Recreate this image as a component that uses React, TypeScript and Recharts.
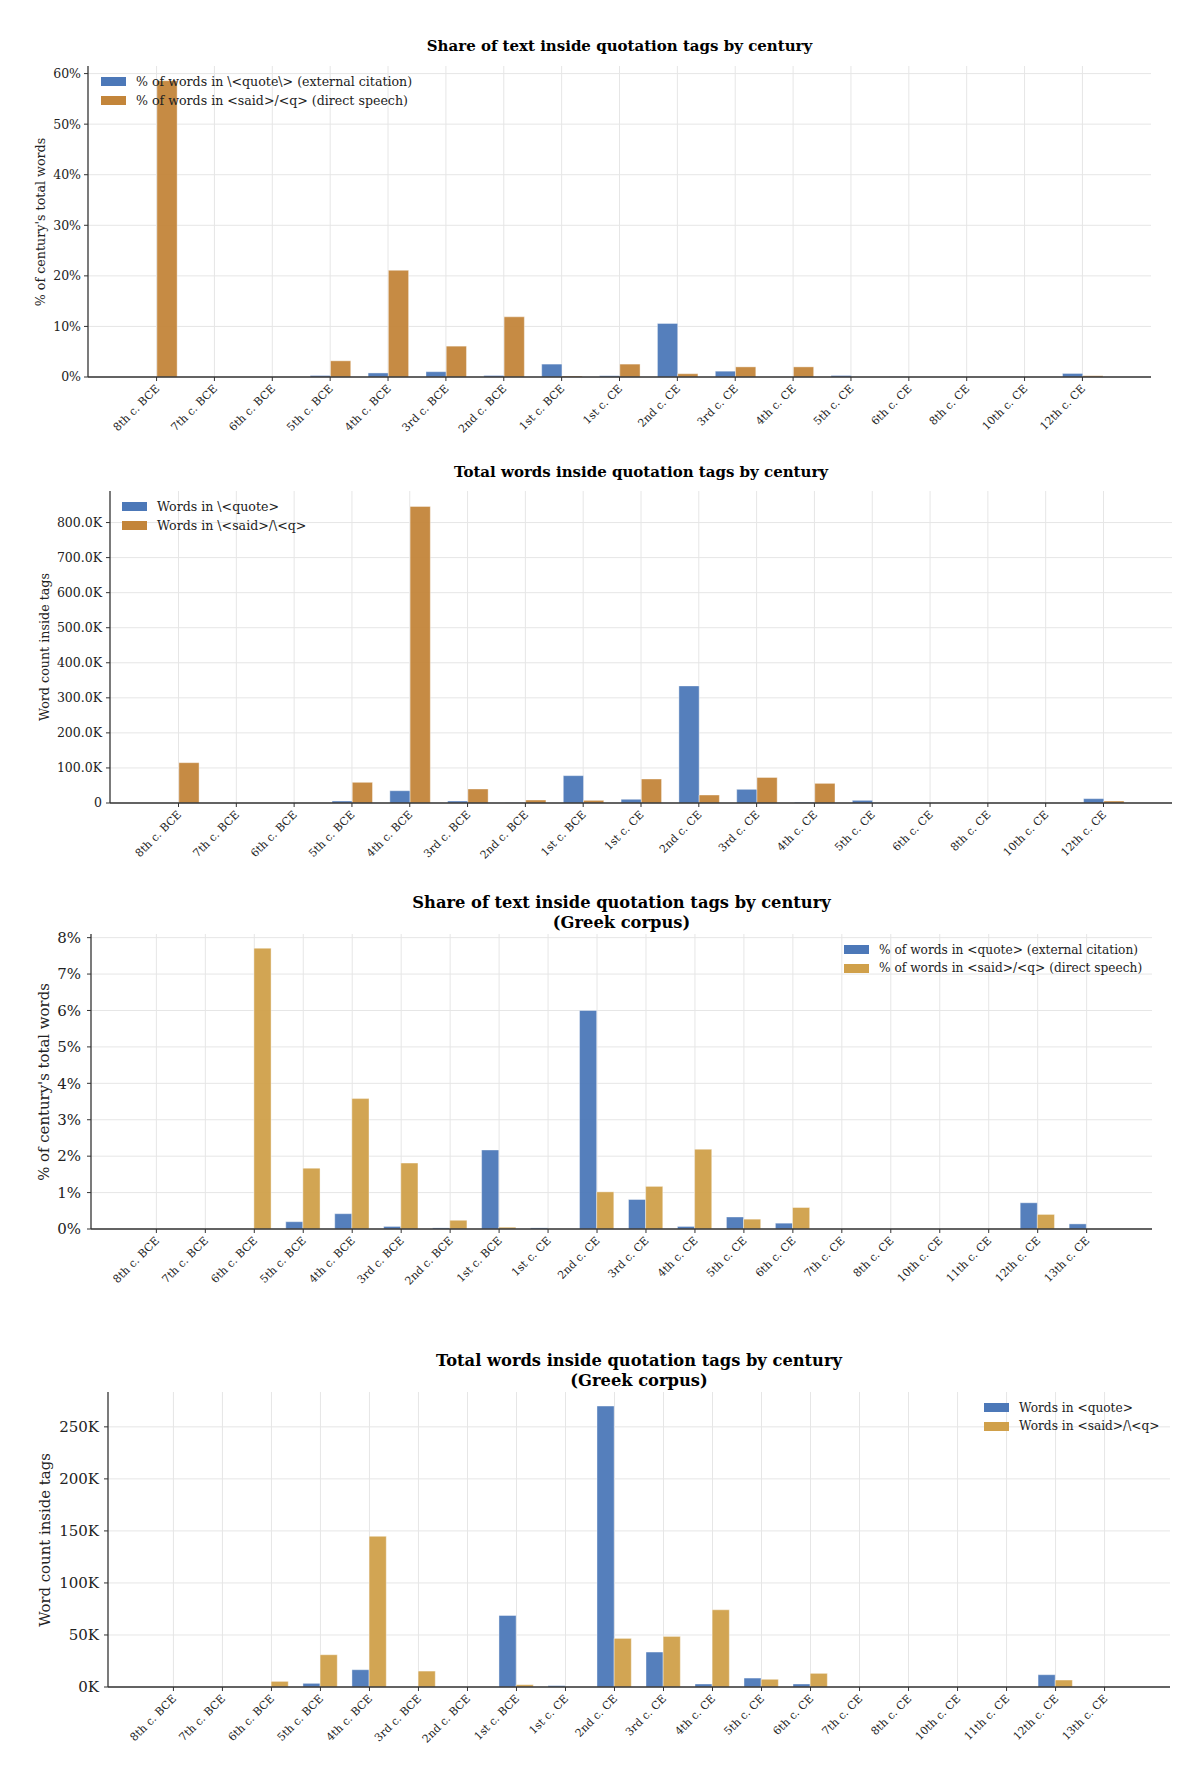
import React from "react";
import { BarChart, Bar, XAxis, YAxis, CartesianGrid } from "recharts";

const FONT = '"DejaVu Serif", serif';

// full corpus
const centuries = [
  "8th c. BCE", "7th c. BCE", "6th c. BCE", "5th c. BCE", "4th c. BCE", "3rd c. BCE",
  "2nd c. BCE", "1st c. BCE", "1st c. CE", "2nd c. CE", "3rd c. CE", "4th c. CE",
  "5th c. CE", "6th c. CE", "8th c. CE", "10th c. CE", "12th c. CE",
];
const quotePct = [0, 0, 0, 0.3, 0.8, 1.05, 0.3, 2.55, 0.25, 10.6, 1.15, 0.02, 0.3, 0.03, 0, 0, 0.7];
const saidPct = [58.6, 0, 0, 3.2, 21.1, 6.1, 11.9, 0.2, 2.55, 0.65, 2.0, 2.0, 0, 0, 0, 0, 0.25];
const quoteWords = [0, 0, 0, 5700, 35000, 5700, 800, 78000, 10500, 334000, 39000, 2000, 7600, 0, 0, 0, 12400];
const saidWords = [115000, 0, 0, 59000, 846000, 40000, 8600, 7600, 68500, 22800, 73000, 56000, 0, 0, 0, 0, 5700];

// Greek corpus
const greekCenturies = [
  "8th c. BCE", "7th c. BCE", "6th c. BCE", "5th c. BCE", "4th c. BCE", "3rd c. BCE",
  "2nd c. BCE", "1st c. BCE", "1st c. CE", "2nd c. CE", "3rd c. CE", "4th c. CE",
  "5th c. CE", "6th c. CE", "7th c. CE", "8th c. CE", "10th c. CE", "11th c. CE",
  "12th c. CE", "13th c. CE",
];
const greekQuotePct = [0, 0, 0, 0.2, 0.42, 0.07, 0.03, 2.17, 0.03, 6.0, 0.81, 0.07, 0.33, 0.16, 0, 0, 0, 0, 0.72, 0.14];
const greekSaidPct = [0, 0, 7.71, 1.67, 3.58, 1.81, 0.24, 0.05, 0, 1.02, 1.17, 2.19, 0.27, 0.59, 0, 0, 0, 0, 0.4, 0];
const greekQuoteWords = [0, 0, 0, 3500, 16600, 0, 0, 68700, 1300, 270000, 33600, 2900, 8600, 2900, 0, 0, 0, 0, 11800, 0];
const greekSaidWords = [0, 0, 5400, 31000, 144800, 15300, 0, 2200, 0, 46700, 48600, 74200, 7400, 13100, 0, 0, 0, 0, 6700, 0];

const pctTicks1 = [0, 10, 20, 30, 40, 50, 60];
const wordTicks1 = [0, 100000, 200000, 300000, 400000, 500000, 600000, 700000, 800000];
const pctTicks2 = [0, 1, 2, 3, 4, 5, 6, 7, 8];
const wordTicks2 = [0, 50000, 100000, 150000, 200000, 250000];

const BLUE = "#4c78b8";
const ORANGE = "#c3853a";
const GOLD = "#d0a04a";

const XTick = (props: any) => {
  const { x, y, payload, fontSize } = props;
  return (
    <g transform={`translate(${x},${y})`}>
      <text
        x={-2}
        y={7}
        transform="rotate(-45)"
        textAnchor="end"
        fontSize={fontSize}
        fontFamily={FONT}
        fill="#222"
      >
        {payload.value}
      </text>
    </g>
  );
};

interface ChartProps {
  top: number;
  height: number;
  plot: { left: number; right: number; top: number; bottom: number };
  cats: string[];
  a: number[];
  b: number[];
  colorB: string;
  yMax: number;
  yTicks: number[];
  yFmt: (v: number) => string;
  yFont: number;
  yGap: number;
  title: string[];
  titleFont: number;
  titleY: number;
  yLabel: string;
  yLabelX: number;
  yLabelFont: number;
  legend: string[];
  legendX: number;
  legendY: number;
  legendFont: number;
  xFont: number;
}

const CenturyChart = (p: ChartProps) => {
  const yW = 80;
  const xH = 80;
  const data = p.cats.map((c, i) => ({ cat: c, a: p.a[i], b: p.b[i] }));
  const n = p.cats.length;
  // matplotlib-style 5% x margin around bars of width 0.35
  const m = 0.35 + 0.05 * (n - 0.3);
  const plotW = p.plot.right - p.plot.left;
  const unit = plotW / (n - 1 + 2 * m);
  const pad = (m - 0.5) * unit;
  const margin = {
    top: p.plot.top - p.top,
    left: p.plot.left - yW,
    right: 1200 - p.plot.right,
    bottom: p.height - (p.plot.bottom - p.top) - xH,
  };
  const cx = (p.plot.left + p.plot.right) / 2;
  const yMid = (p.plot.top + p.plot.bottom) / 2;
  const rowH = p.legendFont * 1.5;

  return (
    <div style={{ position: "absolute", left: 0, top: p.top, width: 1200, height: p.height }}>
      <BarChart
        width={1200}
        height={p.height}
        data={data}
        margin={margin}
        barGap={0}
        barSize={unit * 0.35}
      >
        <CartesianGrid
          stroke="#e6e6e6"
          strokeWidth={1}
          syncWithTicks
          horizontalValues={p.yTicks}
          verticalValues={p.cats}
        />
        <XAxis
          dataKey="cat"
          interval={0}
          height={xH}
          padding={{ left: pad, right: pad }}
          tickSize={4}
          tick={<XTick fontSize={p.xFont} />}
          axisLine={{ stroke: "#333", strokeWidth: 1.3 }}
          tickLine={{ stroke: "#333" }}
        />
        <YAxis
          width={yW}
          type="number"
          domain={[0, p.yMax]}
          ticks={p.yTicks}
          allowDataOverflow
          tickFormatter={p.yFmt}
          tickSize={4}
          tickMargin={p.yGap - 4}
          tick={{ fontSize: p.yFont, fontFamily: FONT, fill: "#222" }}
          axisLine={{ stroke: "#333", strokeWidth: 1.3 }}
          tickLine={{ stroke: "#333" }}
        />
        <Bar dataKey="a" fill={BLUE} fillOpacity={0.95} stroke="#fff" strokeOpacity={0.5} strokeWidth={0.8} isAnimationActive={false} />
        <Bar dataKey="b" fill={p.colorB} fillOpacity={0.95} stroke="#fff" strokeOpacity={0.5} strokeWidth={0.8} isAnimationActive={false} />
      </BarChart>

      {p.title.map((t, i) => (
        <div
          key={t}
          style={{
            position: "absolute",
            left: cx - 400,
            width: 800,
            top: p.titleY - p.top + i * p.titleFont * 1.2 - p.titleFont * 0.6,
            lineHeight: `${p.titleFont * 1.2}px`,
            textAlign: "center",
            fontFamily: FONT,
            fontWeight: "bold",
            fontSize: p.titleFont,
            color: "#000",
          }}
        >
          {t}
        </div>
      ))}

      <div
        style={{
          position: "absolute",
          left: p.yLabelX - 200,
          top: yMid - p.top - 10,
          width: 400,
          height: 20,
          lineHeight: "20px",
          textAlign: "center",
          transform: "rotate(-90deg)",
          fontFamily: FONT,
          fontSize: p.yLabelFont,
          color: "#222",
        }}
      >
        {p.yLabel}
      </div>

      {p.legend.map((l, i) => (
        <div
          key={l}
          style={{
            position: "absolute",
            left: p.legendX,
            top: p.legendY - p.top + i * rowH - rowH / 2,
            height: rowH,
            display: "flex",
            alignItems: "center",
            fontFamily: FONT,
            fontSize: p.legendFont,
            color: "#222",
            whiteSpace: "nowrap",
          }}
        >
          <span
            style={{
              display: "inline-block",
              width: 25,
              height: 9,
              marginRight: 10,
              background: i === 0 ? BLUE : p.colorB,
            }}
          />
          {l}
        </div>
      ))}
    </div>
  );
};

const fmtPct = (v: number) => `${v}%`;
const fmtK1 = (v: number) => (v === 0 ? "0" : `${(v / 1000).toFixed(1)}K`);
const fmtK2 = (v: number) => `${Math.round(v / 1000)}K`;

export default function App() {
  return (
    <div style={{ position: "absolute", left: 0, top: 0, width: 1200, height: 1778, background: "#fff" }}>
      <CenturyChart
        top={0}
        height={450}
        plot={{ left: 88, right: 1151, top: 66, bottom: 377 }}
        cats={centuries}
        a={quotePct}
        b={saidPct}
        colorB={ORANGE}
        yMax={61.5}
        yTicks={pctTicks1}
        yFmt={fmtPct}
        yFont={12.5}
        yGap={7}
        title={["Share of text inside quotation tags by century"]}
        titleFont={15}
        titleY={46}
        yLabel="% of century's total words"
        yLabelX={41}
        yLabelFont={12.7}
        legend={["% of words in \\<quote\\> (external citation)", "% of words in <said>/<q> (direct speech)"]}
        legendX={101}
        legendY={82}
        legendFont={12.6}
        xFont={11}
      />
      <CenturyChart
        top={450}
        height={430}
        plot={{ left: 110, right: 1172, top: 491, bottom: 803 }}
        cats={centuries}
        a={quoteWords}
        b={saidWords}
        colorB={ORANGE}
        yMax={890000}
        yTicks={wordTicks1}
        yFmt={fmtK1}
        yFont={12.5}
        yGap={8}
        title={["Total words inside quotation tags by century"]}
        titleFont={15}
        titleY={472}
        yLabel="Word count inside tags"
        yLabelX={45}
        yLabelFont={12.7}
        legend={["Words in \\<quote>", "Words in \\<said>/\\<q>"]}
        legendX={122}
        legendY={507}
        legendFont={12.6}
        xFont={11}
      />
      <CenturyChart
        top={880}
        height={460}
        plot={{ left: 91, right: 1152, top: 934, bottom: 1229 }}
        cats={greekCenturies}
        a={greekQuotePct}
        b={greekSaidPct}
        colorB={GOLD}
        yMax={8.1}
        yTicks={pctTicks2}
        yFmt={fmtPct}
        yFont={15}
        yGap={10}
        title={["Share of text inside quotation tags by century", "(Greek corpus)"]}
        titleFont={16.3}
        titleY={903}
        yLabel="% of century's total words"
        yLabelX={44}
        yLabelFont={14.9}
        legend={["% of words in <quote> (external citation)", "% of words in <said>/<q> (direct speech)"]}
        legendX={844}
        legendY={950}
        legendFont={12.2}
        xFont={11}
      />
      <CenturyChart
        top={1340}
        height={438}
        plot={{ left: 108, right: 1170, top: 1392, bottom: 1687 }}
        cats={greekCenturies}
        a={greekQuoteWords}
        b={greekSaidWords}
        colorB={GOLD}
        yMax={283500}
        yTicks={wordTicks2}
        yFmt={fmtK2}
        yFont={15}
        yGap={9}
        title={["Total words inside quotation tags by century", "(Greek corpus)"]}
        titleFont={16.3}
        titleY={1361}
        yLabel="Word count inside tags"
        yLabelX={45}
        yLabelFont={14.9}
        legend={["Words in <quote>", "Words in <said>/\\<q>"]}
        legendX={984}
        legendY={1408}
        legendFont={12.2}
        xFont={11}
      />
    </div>
  );
}
